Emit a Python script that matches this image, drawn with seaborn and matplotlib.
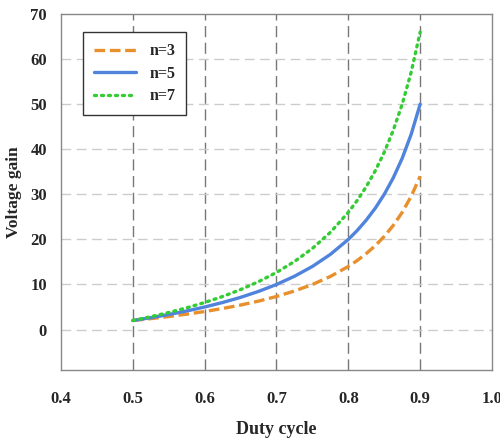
import pandas as pd
import seaborn as sns
import matplotlib.pyplot as plt

# values
duty = [0.5, 0.525, 0.55, 0.575, 0.6, 0.625, 0.65, 0.675, 0.7, 0.725,
        0.75, 0.775, 0.8, 0.8125, 0.825, 0.8375, 0.85, 0.8625, 0.875,
        0.8875, 0.9]
gain_n3 = [2.0, 2.42, 2.89, 3.41, 4.0, 4.67, 5.43, 6.31, 7.33, 8.55,
           10.0, 11.78, 14.0, 15.33, 16.86, 18.62, 20.67, 23.09, 26.0,
           29.56, 34.0]
gain_n5 = [2.0, 2.63, 3.33, 4.12, 5.0, 6.0, 7.14, 8.46, 10.0, 11.82,
           14.0, 16.67, 20.0, 22.0, 24.29, 26.92, 30.0, 33.64, 38.0,
           43.33, 50.0]
gain_n7 = [2.0, 2.84, 3.78, 4.82, 6.0, 7.33, 8.86, 10.62, 12.67, 15.09,
           18.0, 21.56, 26.0, 28.67, 31.71, 35.23, 39.33, 44.18, 50.0,
           57.11, 66.0]
labels = ["n=3", "n=5", "n=7"]
xticks = [0.4, 0.5, 0.6, 0.7, 0.8, 0.9, 1.0]
yticks = [0, 10, 20, 30, 40, 50, 60, 70]

sns.set_style("white")
plt.rcParams['font.family'] = ['Liberation Serif', 'DejaVu Serif']
plt.rcParams['font.weight'] = 'bold'

fig = plt.figure(figsize=(5, 4.38), dpi=100)
ax = fig.add_axes([0.122, 0.155, 0.862, 0.813])

# grid first so the curves sit on top
for x in xticks[1:-1]:
    ax.axvline(x, color='#777777', lw=1.0, ls=(0, (8, 4)), zorder=1)
for y in yticks[:-1]:
    ax.axhline(y, color='#cccccc', lw=1.0, ls=(0, (7, 4)), zorder=1)

styles = [("#e8902c", (0, (3.2, 1.4))),
          ("#4f83dc", "-"),
          ("#33cc33", (0, (0.6, 1.5)))]
for vals, lab, (col, ls) in zip([gain_n3, gain_n5, gain_n7], labels, styles):
    df = pd.DataFrame({"duty": duty, "gain": vals})
    sns.lineplot(data=df, x="duty", y="gain", ax=ax, color=col, lw=2.4,
                 label=lab, zorder=3)
    ax.lines[-1].set_linestyle(ls)
    if lab == "n=7":
        ax.lines[-1].set_dash_capstyle('round')

ax.set_xlim(0.4, 1.0)
ax.set_ylim(-9, 70)
ax.set_xticks(xticks)
ax.set_xticklabels(["0.4", "0.5", "0.6", "0.7", "0.8", "0.9", "1.0"])
ax.set_yticks(yticks)
ax.tick_params(axis='both', direction='out', length=4, color='#666666',
               labelsize=12, pad=6)
ax.tick_params(axis='x', pad=11)
for lbl in ax.get_xticklabels() + ax.get_yticklabels():
    lbl.set_fontweight('bold')
for sp in ax.spines.values():
    sp.set_color('#888888')
    sp.set_linewidth(1.0)

ax.set_xlabel("Duty cycle", fontsize=13, fontweight='bold')
ax.xaxis.set_label_coords(0.5, -0.142)
ax.set_ylabel("Voltage gain", fontsize=12.5, fontweight='bold', labelpad=6)

leg = ax.legend(loc='upper left', bbox_to_anchor=(0.051, 0.949), frameon=True,
                fancybox=False, edgecolor='#333333', framealpha=1,
                borderaxespad=0,
                prop={'family': 'Liberation Serif', 'weight': 'bold', 'size': 11.5},
                handlelength=2.6, handletextpad=0.85, borderpad=0.7,
                labelspacing=0.4)
leg.get_frame().set_linewidth(1.0)

fig.savefig("out.png", dpi=100)
